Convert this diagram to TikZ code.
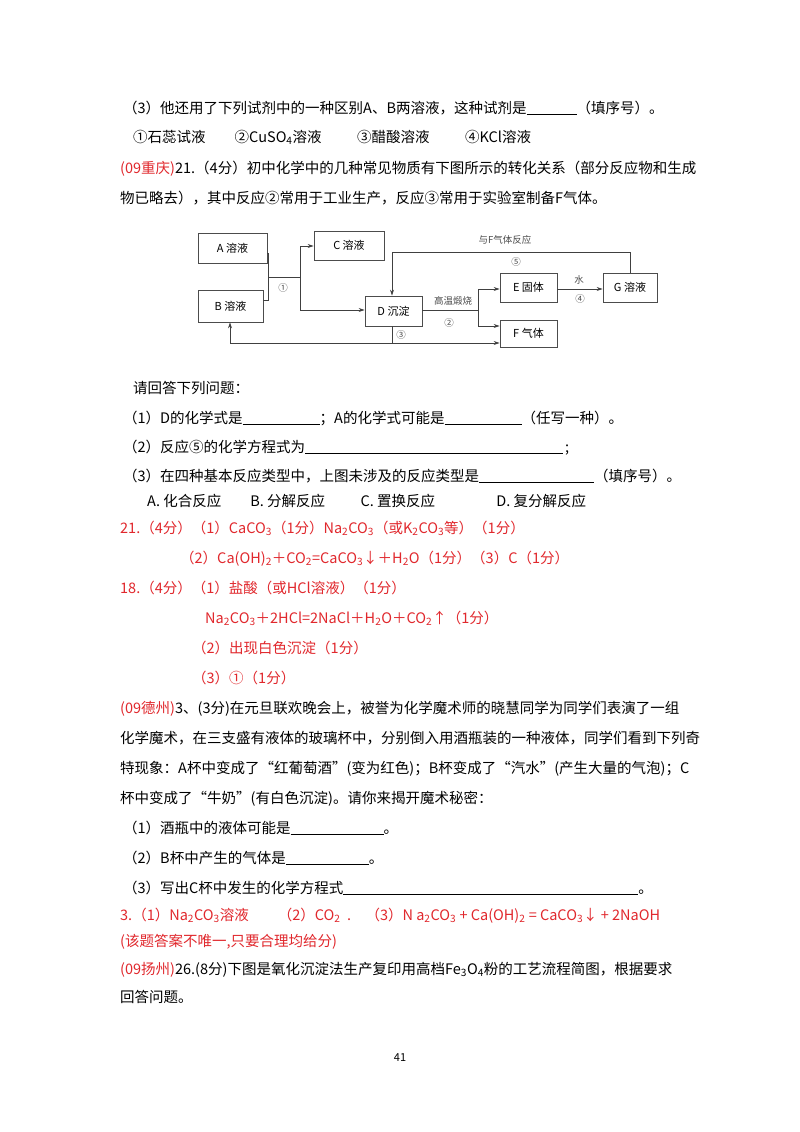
\documentclass[tikz,border=0pt]{standalone}
\usepackage{fontspec}
\setmainfont{Noto Sans CJK SC}
\usetikzlibrary{arrows.meta}
\definecolor{ans}{RGB}{225,40,45}
\newcommand{\blank}[1]{\rule[-2pt]{#1}{0.8pt}}
\tikzset{
  tx/.style={anchor=base west,inner sep=0pt,font=\fontsize{14.5}{17}\selectfont},
  rt/.style={tx,text=ans},
  box/.style={draw=black!70,line width=0.8pt,inner sep=0pt,font=\fontsize{11}{13}\selectfont},
  ln/.style={draw=black!75,line width=0.8pt},
  ar/.style={ln,-{Stealth[length=6pt,width=4pt]}},
  lb/.style={font=\fontsize{9.5}{11}\selectfont,text=black!70,inner sep=0pt}
}
\begin{document}
\begin{tikzpicture}[x=1pt,y=-1pt]
\useasboundingbox[fill=white] (0,0) rectangle (800,1132);
% text top
\node[tx] (t1) at (123,113) {（3）他还用了下列试剂中的一种区别A、B两溶液，这种试剂是\blank{50pt}（填序号）。};
\node[tx] (t2) at (133,142) {①石蕊试液\qquad ②CuSO\textsubscript{4}溶液\qquad\ \ ③醋酸溶液\qquad\ \ ④KCl溶液};
\node[tx] (t3) at (120,173) {\textcolor{ans}{(09重庆)}21.（4分）初中化学中的几种常见物质有下图所示的转化关系（部分反应物和生成};
\node[tx] (t4) at (120,203) {物已略去），其中反应②常用于工业生产，反应③常用于实验室制备F气体。};
% diagram
\node[box,minimum width=69pt,minimum height=30pt] (A) at (232.5,248) {A 溶液};
\node[box,minimum width=70pt,minimum height=29pt] (C) at (349,245.5) {C 溶液};
\node[box,minimum width=65pt,minimum height=32pt] (B) at (230.5,306) {B 溶液};
\node[box,minimum width=57pt,minimum height=30pt] (D) at (393.5,311) {D 沉淀};
\node[box,minimum width=57pt,minimum height=29pt] (E) at (528.5,287.5) {E 固体};
\node[box,minimum width=54pt,minimum height=29pt] (G) at (630,287.5) {G 溶液};
\node[box,minimum width=57pt,minimum height=27pt] (F) at (528.5,333.5) {F 气体};
\coordinate (j) at (268,277);
\coordinate (k) at (300,277);
\coordinate (h) at (478,310);
\draw[ln] (A.east |- 0,253) -| (j);
\draw[ln] (B.east |- 0,300) -| (j);
\draw[ln] (j) -- (k);
\draw[ar] (k) |- (C.west |- 0,246);
\draw[ar] (k) |- (D.west |- 0,310);
\node[lb] (l1) at (283,288) {①};
\draw[ar] (G.north -| 630,0) |- (392,252) -- (D.north -| 392,0);
\node[lb] (l5a) at (505,240) {与F气体反应};
\node[lb] (l5) at (516,262) {⑤};
\draw[ln] (D.east |- h) -- (h);
\draw[ar] (h) |- (E.west |- 0,289);
\draw[ar] (h) |- (F.west |- 0,326);
\node[lb] (l2a) at (453,301) {高温煅烧};
\node[lb] (l2) at (449,323) {②};
\draw[ar] (E.east |- 0,289) -- (G.west |- 0,289);
\node[lb] (l4a) at (579,280) {水};
\node[lb] (l4) at (580,299) {④};
\draw[ar] (D.south -| 392,0) |- (F.west |- 0,343);
\draw[ar] (392,343) -| (B.south -| 230,0);
\node[lb] (l3) at (401,335) {③};
% questions
\node[tx] (q0) at (133,393) {请回答下列问题：};
\node[tx] (q1) at (123,423) {（1）D的化学式是\blank{77pt}；A的化学式可能是\blank{77pt}（任写一种）。};
\node[tx] (q2) at (123,452) {（2）反应⑤的化学方程式为\blank{258pt}};
\node[tx] (q2b) at (565,452) {;};
\node[tx] (q3) at (123,481) {（3）在四种基本反应类型中，上图未涉及的反应类型是\blank{115pt}（填序号）。};
\node[tx] (q4) at (147,506) {A. 化合反应\qquad B. 分解反应\qquad\ \ C. 置换反应\qquad\qquad\ D. 复分解反应};
% answers
\node[rt] (a1) at (120,533) {21.（4分）（1）CaCO\textsubscript{3}（1分）Na\textsubscript{2}CO\textsubscript{3}（或K\textsubscript{2}CO\textsubscript{3}等）（1分）};
\node[rt] (a2) at (180,563) {（2）Ca(OH)\textsubscript{2}＋CO\textsubscript{2}=CaCO\textsubscript{3}↓＋H\textsubscript{2}O（1分）（3）C（1分）};
\node[rt] (a3) at (120,593) {18.（4分）（1）盐酸（或HCl溶液）（1分）};
\node[rt] (a4) at (205,623) {Na\textsubscript{2}CO\textsubscript{3}＋2HCl=2NaCl＋H\textsubscript{2}O＋CO\textsubscript{2}↑（1分）};
\node[rt] (a5) at (192,653) {（2）出现白色沉淀（1分）};
\node[rt] (a6) at (192,683) {（3）①（1分）};
% 3
\node[tx] (p1) at (120,713) {\textcolor{ans}{(09德州)}3、(3分)在元旦联欢晚会上，被誉为化学魔术师的晓慧同学为同学们表演了一组};
\node[tx] (p2) at (120,743) {化学魔术，在三支盛有液体的玻璃杯中，分别倒入用酒瓶装的一种液体，同学们看到下列奇};
\node[tx] (p3) at (120,773) {特现象：A杯中变成了“红葡萄酒”(变为红色)；B杯变成了“汽水”(产生大量的气泡)；C};
\node[tx] (p4) at (120,803) {杯中变成了“牛奶”(有白色沉淀)。请你来揭开魔术秘密：};
\node[tx] (p5) at (123,833) {（1）酒瓶中的液体可能是\blank{93pt}。};
\node[tx] (p6) at (123,863) {（2）B杯中产生的气体是\blank{83pt}。};
\node[tx] (p7) at (123,893) {（3）写出C杯中发生的化学方程式\blank{295pt}。};
\node[rt] (b1) at (120,920) {3.（1）Na\textsubscript{2}CO\textsubscript{3}溶液\qquad（2）CO\textsubscript{2}\ \ .\quad（3）N a\textsubscript{2}CO\textsubscript{3} + Ca(OH)\textsubscript{2} = CaCO\textsubscript{3}↓ + 2NaOH};
\node[rt] (b2) at (120,946) {(该题答案不唯一,只要合理均给分)};
\node[tx] (r1) at (120,974) {\textcolor{ans}{(09扬州)}26.(8分)下图是氧化沉淀法生产复印用高档Fe\textsubscript{3}O\textsubscript{4}粉的工艺流程简图，根据要求};
\node[tx] (r2) at (120,1002) {回答问题。};
\node[anchor=base,inner sep=0pt,font=\fontsize{11}{13}\selectfont] (pg) at (400,1061) {41};
\end{tikzpicture}
\end{document}
